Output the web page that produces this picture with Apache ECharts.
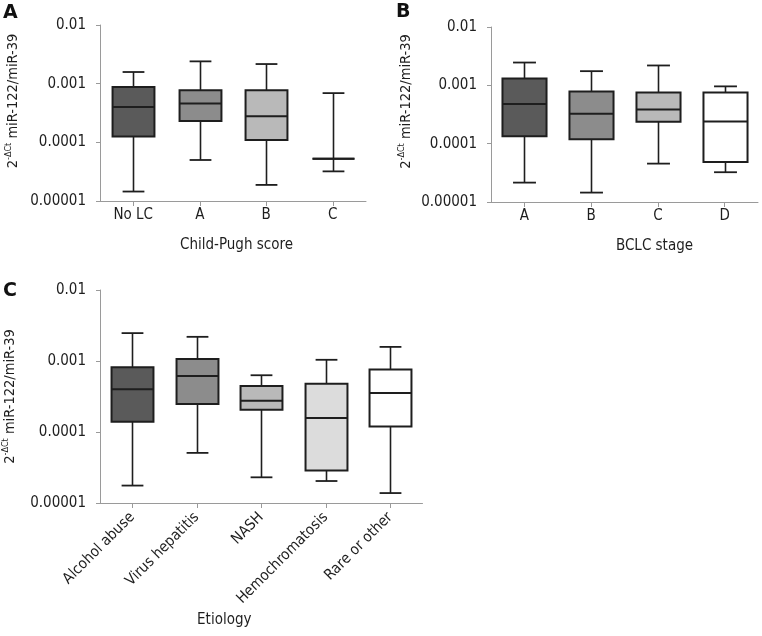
<!DOCTYPE html>
<html>
<head>
<meta charset="utf-8">
<script src="https://cdn.jsdelivr.net/npm/echarts@6/dist/echarts.min.js"></script>
<style>html,body{margin:0;padding:0;background:#fff}#c{width:762px;height:636px}</style>
</head>
<body>
<div id="c"></div>
<script>
// ---- Data ----
const yTickLabels = ['0.00001', '0.0001', '0.001', '0.01'];

// Panel A: Child-Pugh score
const catsA = ['No LC', 'A', 'B', 'C'];
const minA = [0.0000145, 0.00005, 0.0000188, 0.000032];
const q1A  = [0.000126, 0.00023, 0.00011, 0.0000527];
const medA = [0.0004, 0.00046, 0.000278, 0.0000527];
const q3A  = [0.00088, 0.00077, 0.00077, 0.0000527];
const maxA = [0.00158, 0.0024, 0.00216, 0.00069];

// Panel B: BCLC stage
const catsB = ['A', 'B', 'C', 'D'];
const minB = [0.0000215, 0.0000145, 0.0000455, 0.0000324];
const q1B  = [0.000134, 0.000119, 0.000238, 0.0000487];
const medB = [0.00048, 0.000326, 0.000386, 0.000241];
const q3B  = [0.00131, 0.000785, 0.000755, 0.000755];
const maxB = [0.00246, 0.00175, 0.00219, 0.00096];

// Panel C: Etiology
const catsC = ['Alcohol abuse', 'Virus hepatitis', 'NASH', 'Hemochromatosis', 'Rare or other'];
const minC = [0.0000176, 0.0000508, 0.000023, 0.0000204, 0.0000138];
const q1C  = [0.000139, 0.000248, 0.000206, 0.0000286, 0.00012];
const medC = [0.0004, 0.000617, 0.000276, 0.000157, 0.000354];
const q3C  = [0.000817, 0.00107, 0.000445, 0.00048, 0.000757];
const maxC = [0.00247, 0.00219, 0.00063, 0.00104, 0.00158];

// ---- Styles ----
const fillsA = ['#5a5a5a', '#8c8c8c', '#b9b9b9', '#b9b9b9'];
const fillsB = ['#5a5a5a', '#8c8c8c', '#b9b9b9', '#ffffff'];
const fillsC = ['#5a5a5a', '#8c8c8c', '#b9b9b9', '#dcdcdc', '#ffffff'];
const FONT = '"DejaVu Sans Condensed", "DejaVu Sans", sans-serif';
const INK = '#1e1e1e';
const AX = '#9a9a9a';

function rows(mins, q1, med, q3, max) {
  return mins.map((v, i) => [i, v, q1[i], med[i], q3[i], max[i]]);
}

function makeRender(fills, ncat, frac) {
  return function (params, api) {
    const i = api.value(0);
    const pLo = api.coord([i, api.value(1)]);
    const pQ1 = api.coord([i, api.value(2)]);
    const pMd = api.coord([i, api.value(3)]);
    const pQ3 = api.coord([i, api.value(4)]);
    const pHi = api.coord([i, api.value(5)]);
    const band = params.coordSys.width / ncat;
    const bw = band * frac;
    const cw = bw * 0.52;
    const cx = Math.round(pLo[0]) + 0.5;
    const ln = (x1, y1, x2, y2, w) => ({type: 'line', shape: {x1, y1, x2, y2}, style: {stroke: INK, lineWidth: w}});
    return {
      type: 'group',
      children: [
        ln(cx, pHi[1], cx, pQ3[1], 1.6),
        ln(cx, pQ1[1], cx, pLo[1], 1.6),
        ln(cx - cw / 2, pHi[1], cx + cw / 2, pHi[1], 1.8),
        ln(cx - cw / 2, pLo[1], cx + cw / 2, pLo[1], 1.8),
        {type: 'rect', shape: {x: cx - bw / 2, y: pQ3[1], width: bw, height: pQ1[1] - pQ3[1]},
         style: {fill: fills[i], stroke: INK, lineWidth: 2}},
        ln(cx - bw / 2, pMd[1], cx + bw / 2, pMd[1], 2)
      ]
    };
  };
}

function yFmt(v) {
  const t = yTickLabels.find(s => Math.abs(Math.log10(parseFloat(s)) - Math.log10(v)) < 1e-6);
  return t || '';
}

const yName = '{s|2}{sup|-ΔCt}{s| miR-122/miR-39}';
function yAxis(gi, gap, pad) {
  return {
    type: 'log', logBase: 10, gridIndex: gi, min: 0.00001, max: 0.01, splitNumber: 3,
    name: yName, nameLocation: 'middle', nameGap: gap,
    nameTextStyle: {
      padding: pad,
      rich: {
        s: {fontFamily: FONT, fontSize: 14.5, color: INK, lineHeight: 19},
        sup: {fontFamily: FONT, fontSize: 9, color: INK, lineHeight: 19, verticalAlign: 'top', padding: [0, 0, 6, 0]}
      }
    },
    axisLine: {show: true, lineStyle: {color: AX, width: 1}},
    axisTick: {show: true, length: 4, lineStyle: {color: AX}},
    minorTick: {show: false},
    splitLine: {show: false},
    axisLabel: {fontFamily: FONT, fontSize: 15, color: INK, margin: 14, formatter: yFmt}
  };
}
function xAxis(gi, cats, name, gap, pad, rotate) {
  return {
    type: 'category', gridIndex: gi, data: cats,
    name: name, nameLocation: 'middle', nameGap: gap,
    nameTextStyle: {fontFamily: FONT, fontSize: 15, color: INK, padding: pad},
    axisLine: {show: true, onZero: false, lineStyle: {color: AX, width: 1}},
    axisTick: {show: true, alignWithLabel: true, length: 5, lineStyle: {color: AX}},
    splitLine: {show: false},
    axisLabel: {fontFamily: FONT, fontSize: 15, color: INK, margin: rotate ? 12 : 7, rotate: rotate || 0, interval: 0}
  };
}

const chart = echarts.init(document.getElementById('c'), null, {renderer: 'canvas'});
chart.setOption({
  animation: false,
  backgroundColor: '#ffffff',
  grid: [
    {left: 100, top: 25, width: 266, height: 176},
    {left: 491, top: 27, width: 267, height: 175},
    {left: 98.5, top: 290, width: 324, height: 213}
  ],
  xAxis: [
    xAxis(0, catsA, 'Child-Pugh score', 37, [0, 0, 0, 7]),
    xAxis(1, catsB, 'BCLC stage', 37, [0, 0, 0, 60]),
    xAxis(2, catsC, 'Etiology', 110, [0, 74, 0, 0], 45)
  ],
  yAxis: [
    yAxis(0, 77, [0, 0, 0, 24]),
    yAxis(1, 75, [0, 0, 0, 26]),
    yAxis(2, 80, [0, 0, 0, 0])
  ],
  graphic: [
    {type: 'text', left: 3, top: 4, style: {text: 'A', fontFamily: 'DejaVu Sans', fontWeight: 'bold', fontSize: 19, fill: '#111'}},
    {type: 'text', left: 396, top: 3, style: {text: 'B', fontFamily: 'DejaVu Sans', fontWeight: 'bold', fontSize: 19, fill: '#111'}},
    {type: 'text', left: 3, top: 282, style: {text: 'C', fontFamily: 'DejaVu Sans', fontWeight: 'bold', fontSize: 19, fill: '#111'}}
  ],
  series: [
    {type: 'custom', xAxisIndex: 0, yAxisIndex: 0, renderItem: makeRender(fillsA, catsA.length, 0.63),
     encode: {x: 0, y: [1, 2, 3, 4, 5]}, data: rows(minA, q1A, medA, q3A, maxA)},
    {type: 'custom', xAxisIndex: 1, yAxisIndex: 1, renderItem: makeRender(fillsB, catsB.length, 0.66),
     encode: {x: 0, y: [1, 2, 3, 4, 5]}, data: rows(minB, q1B, medB, q3B, maxB)},
    {type: 'custom', xAxisIndex: 2, yAxisIndex: 2, renderItem: makeRender(fillsC, catsC.length, 0.65),
     encode: {x: 0, y: [1, 2, 3, 4, 5]}, data: rows(minC, q1C, medC, q3C, maxC)}
  ]
});
</script>
</body>
</html>
